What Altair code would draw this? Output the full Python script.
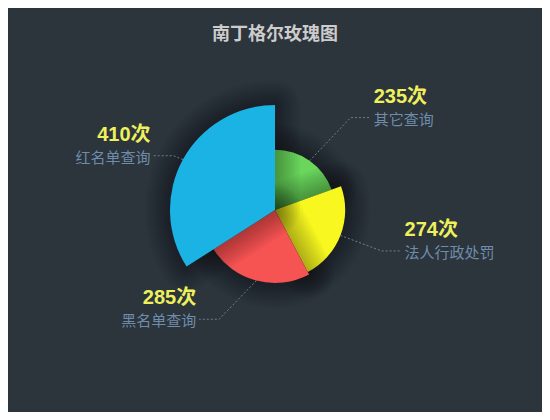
import math
import altair as alt
import pandas as pd

# ---- data ----
names = ["其它查询", "法人行政处罚", "黑名单查询", "红名单查询"]
values = [235, 274, 285, 410]
colors = ["#6ad65c", "#f8f820", "#f65353", "#1bb3e4"]
unit = "次"
title_text = "南丁格尔玫瑰图"

# ---- layout / style constants ----
W, H = 534, 404                  # plot area (page has an 8px margin)
CX, CY = W / 2, H / 2
R = 105                          # rose max radius
LEN1, LEN2 = 8, 20               # label line lengths
BG = "#2c343c"
FONT = "'Liberation Sans', 'Noto Sans CJK SC', sans-serif"
CJK = "'Noto Sans CJK SC', sans-serif"

df = pd.DataFrame({"idx": list(range(len(names))), "name": names,
                   "value": values, "color": colors})

# label layout computed from the values (echarts-like outer labels)
total = sum(values)
vmax = max(values)
cum = 0
line_rows, label_rows = [], []
for i, (n, v) in enumerate(zip(names, values)):
    a0 = cum / total * 2 * math.pi
    cum += v
    a1 = cum / total * 2 * math.pi
    mid = (a0 + a1) / 2
    sx, sy = math.sin(mid), -math.cos(mid)
    r = v / vmax * R
    x1, y1 = CX + r * sx, CY + r * sy
    ly = CY + (R + LEN1) * sy
    d = 1 if sx >= 0 else -1
    ddy = abs(ly - CY)
    ddx = math.sqrt((R + LEN1 + LEN2) ** 2 - ddy ** 2)
    lx = CX + ddx * d
    ex = lx - d * LEN2
    line_rows += [
        {"name": n, "k": 0, "x": x1, "y": y1},
        {"name": n, "k": 1, "x": ex, "y": ly},
        {"name": n, "k": 2, "x": lx, "y": ly},
    ]
    label_rows.append({"name": n, "vtext": f"{v}{unit}", "x": lx, "y": ly,
                       "side": "right" if d > 0 else "left"})

lines_df = pd.DataFrame(line_rows)
labels_df = pd.DataFrame(label_rows)

xs = alt.Scale(domain=[0, W], nice=False, zero=False)
ys = alt.Scale(domain=[0, H], nice=False, zero=False, reverse=True)

theta = alt.Theta("value:Q", stack=True)
radius = alt.Radius("value:Q", scale=alt.Scale(type="linear", zero=True, nice=False,
                                                domain=[0, vmax], range=[0, R]))
order = alt.Order("idx:Q")

layers = []
shadow_widths = list(range(50, 0, -5))
for k in range(len(names)):
    sel = alt.datum.idx == k
    for w in shadow_widths:
        layers.append(
            alt.Chart(df).mark_arc(fill="transparent", stroke="black", strokeWidth=w,
                                   strokeJoin="round").encode(
                theta=theta, radius=radius, order=order,
                strokeOpacity=alt.when(sel).then(alt.value(0.03)).otherwise(alt.value(0)),
            )
        )
    layers.append(
        alt.Chart(df).mark_arc(strokeWidth=0).encode(
            theta=theta, radius=radius, order=order,
            color=alt.Color("color:N", scale=None),
            fillOpacity=alt.when(sel).then(alt.value(1)).otherwise(alt.value(0)),
        )
    )

line_layer = alt.Chart(lines_df).mark_line(
    color="#8193a8", strokeWidth=1, strokeDash=[2, 2], opacity=0.8
).encode(
    x=alt.X("x:Q", scale=xs, axis=None),
    y=alt.Y("y:Q", scale=ys, axis=None),
    detail="name:N",
    order="k:Q",
)
layers.append(line_layer)

for side, align, dxv in [("right", "left", 3), ("left", "right", -3)]:
    base = alt.Chart(labels_df).transform_filter(alt.datum.side == side)
    layers.append(
        base.mark_text(align=align, baseline="middle", dx=dxv, dy=-21, fontSize=20,
                       fontWeight="bold", font=FONT, color="#eef05c").encode(
            x=alt.X("x:Q", scale=xs, axis=None),
            y=alt.Y("y:Q", scale=ys, axis=None),
            text="vtext:N",
        )
    )
    layers.append(
        base.mark_text(align=align, baseline="middle", dx=dxv, dy=2, fontSize=15,
                       font=CJK, color="#6f8cab").encode(
            x=alt.X("x:Q", scale=xs, axis=None),
            y=alt.Y("y:Q", scale=ys, axis=None),
            text="name:N",
        )
    )

chart = alt.layer(*layers).properties(
    width=W,
    height=H,
    padding=0,
    autosize="none",
    background=BG,
    title=alt.TitleParams(title_text, anchor="middle", frame="group", orient="top",
                          baseline="top", offset=-29, dy=7, fontSize=18, fontWeight="bold",
                          color="#cccccc", font=CJK),
).configure_view(stroke=None)

chart.save("out.html", embed_options={"renderer": "svg", "actions": False})
